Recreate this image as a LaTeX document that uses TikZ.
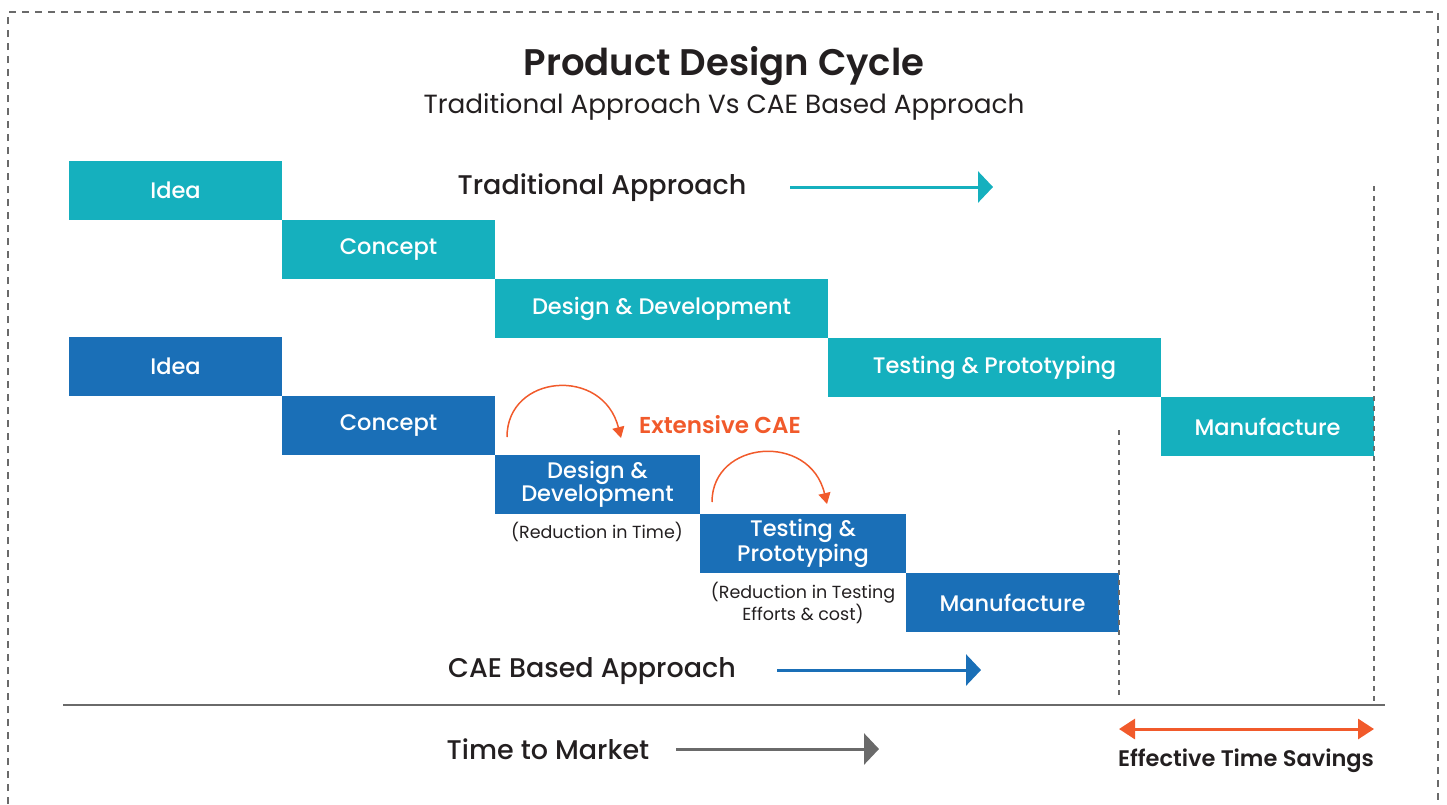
\documentclass[tikz,border=0pt]{standalone}
\usepackage{fontspec}
\setmainfont{Poppins}
\newfontfamily\semibold{Poppins SemiBold}
\newfontfamily\medium{Poppins Medium}
\usetikzlibrary{arrows.meta}

\definecolor{tradteal}{HTML}{15B0BE}
\definecolor{caeblue}{HTML}{1A6FB7}
\definecolor{caeorange}{HTML}{F15A2B}
\definecolor{textgrey}{HTML}{231F20}
\definecolor{linegrey}{HTML}{6A6A6A}

\tikzset{
  stage/.style={inner sep=0pt, minimum height=59pt, text=white,
    font=\fontsize{22.5}{23}\selectfont\medium, align=center},
  heading/.style={text=textgrey, font=\fontsize{27}{30}\selectfont\medium},
  note/.style={text=textgrey, font=\fontsize{17.5}{22}\selectfont, align=center},
  bigarrow/.style={line width=3pt, -{Triangle[length=15pt,width=31pt]}},
  loop/.style={caeorange, line width=1.5pt, -{Triangle[length=11pt,width=12pt]}},
  guide/.style={linegrey, line width=2pt, dash pattern=on 5pt off 5pt},
}

% One stage of a cycle: name, left, top, width, colour, text.
\NewDocumentCommand{\stagebox}{mmmmmm}{%
\node[stage, fill=#5, minimum width=#4pt] (#1) at ({#2+#4/2},{#3+29.5}) {#6};%
}

\begin{document}
\begin{tikzpicture}[x=1pt,y=-1pt]
        \useasboundingbox (0,0) rectangle (1447,804);

        % Frame.
        \draw[linegrey, line width=2pt, dash pattern=on 7pt off 6pt]
          (8,830) -- (8,12) -- (1438,12) -- (1438,830);

        % Titles.
        \node[text=textgrey, font=\fontsize{37}{40}\selectfont\semibold] (title) at (724,66) {Product Design Cycle};
        \node[text=textgrey, font=\fontsize{26.3}{28}\selectfont] (subtitle) at (724,107) {Traditional Approach Vs CAE Based Approach};

        % Traditional stages.
        \stagebox{tidea}{69}{161}{213}{tradteal}{Idea}
        \stagebox{tconcept}{282}{220}{213}{tradteal}{Concept}
        \stagebox{tdesign}{495}{279}{333}{tradteal}{Design \& Development}
        \stagebox{ttest}{828}{338}{333}{tradteal}{Testing \& Prototyping}
        \stagebox{tmanuf}{1161}{397}{213}{tradteal}{Manufacture}

        % CAE stages.
        \stagebox{cidea}{69}{337}{213}{caeblue}{Idea}
        \stagebox{cconcept}{282}{396}{213}{caeblue}{Concept}
        \stagebox{cdesign}{495}{455}{205}{caeblue}{Design \&\\Development}
        \stagebox{ctest}{700}{514}{206}{caeblue}{Testing \&\\Prototyping}
        \stagebox{cmanuf}{906}{573}{213}{caeblue}{Manufacture}

        % Notes under the CAE stages.
        \node[note] (timenote) at (597,532) {(Reduction in Time)};
        \node[note] (costnote) at (803,603) {(Reduction in Testing\\Efforts \& cost)};

        % Extensive CAE loops.
        \node[text=caeorange, font=\fontsize{23}{25}\selectfont\semibold] (extcae) at (720,425) {Extensive CAE};
        \coordinate (loopa) at (507,437);
        \coordinate (loopb) at (621,438);
        \coordinate (loopc) at (712,502);
        \coordinate (loopd) at (827,504);
        \draw[loop] (loopa) .. controls (507,374) and (603,366) .. (loopb);
        \draw[loop] (loopc) .. controls (712,440) and (810,432) .. (loopd);

        % Traditional approach label.
        \node[heading] (tradlabel) at (602,188) {Traditional Approach};
        \coordinate (tradfrom) at (790,187);
        \coordinate (tradto) at (993,187);
        \draw[bigarrow, tradteal] (tradfrom) -- (tradto);

        % CAE approach label.
        \node[heading] (caelabel) at (592,671) {CAE Based Approach};
        \coordinate (caefrom) at (777,670);
        \coordinate (caeto) at (981,670);
        \draw[bigarrow, caeblue] (caefrom) -- (caeto);

        % Time axis.
        \coordinate (axisl) at (63,705);
        \coordinate (axisr) at (1385,705);
        \draw[linegrey, line width=2.5pt] (axisl) -- (axisr);
        \node[heading] (timelabel) at (548,749) {Time to Market};
        \coordinate (timefrom) at (676,749);
        \coordinate (timeto) at (879,749);
        \draw[bigarrow, linegrey] (timefrom) -- (timeto);

        % End marks and saving.
        \coordinate (caeend) at (1119,430);
        \coordinate (caeendb) at (1119,697);
        \coordinate (tradend) at (1374,186);
        \coordinate (tradendb) at (1374,705);
        \draw[guide] (caeend) -- (caeendb);
        \draw[guide] (tradend) -- (tradendb);
        \coordinate (savel) at (1119,729);
        \coordinate (saver) at (1374,729);
        \draw[caeorange, line width=3pt, {Triangle[length=16pt,width=20pt]}-{Triangle[length=16pt,width=20pt]}] (savel) -- (saver);
        \node[text=textgrey, font=\fontsize{22.5}{24}\selectfont\semibold] (savelabel) at (1246,761) {Effective Time Savings};
\end{tikzpicture}
\end{document}
